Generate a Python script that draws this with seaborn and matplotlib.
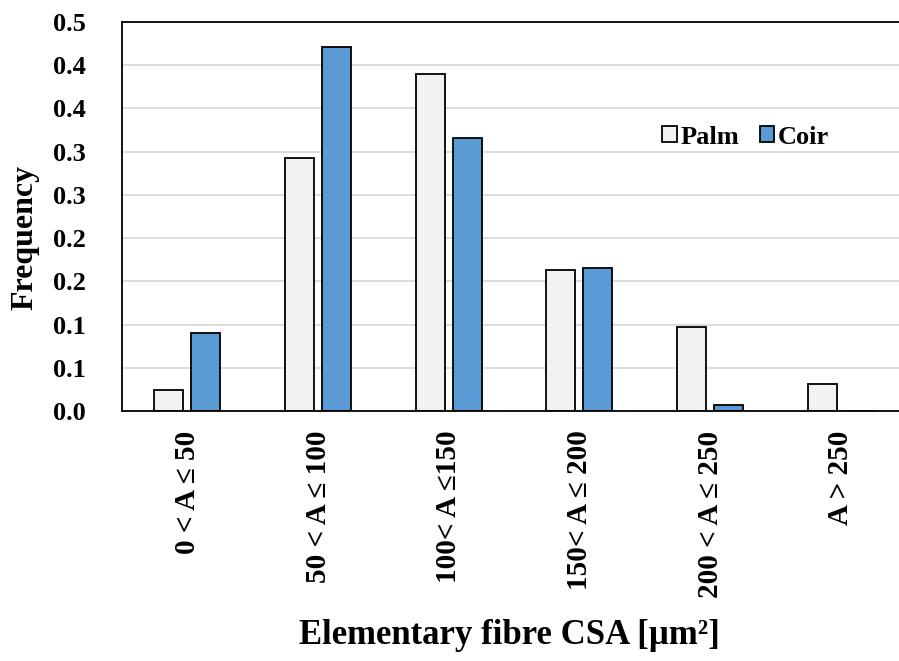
import numpy as np
import pandas as pd
import matplotlib
matplotlib.use("Agg")
import matplotlib.pyplot as plt
import seaborn as sns

# data
categories = ["0 < A ≤ 50", "50 < A ≤ 100", "100< A ≤150",
              "150< A ≤ 200", "200 < A ≤ 250", "A > 250"]
palm = [0.024, 0.293, 0.390, 0.1635, 0.0975, 0.031]
coir = [0.090, 0.421, 0.316, 0.165, 0.007, 0.0]
y_ticks = [0.0, 0.05, 0.10, 0.15, 0.20, 0.25, 0.30, 0.35, 0.40, 0.45]
y_tick_labels = ["0.0", "0.1", "0.1", "0.2", "0.2", "0.3", "0.3", "0.4", "0.4", "0.5"]

df = pd.DataFrame({
    "CSA": categories * 2,
    "Frequency": palm + coir,
    "Fibre": ["Palm"] * len(categories) + ["Coir"] * len(categories),
})

sns.set_style("white")
plt.rcParams['font.family'] = ['Liberation Serif', 'DejaVu Serif']
plt.rcParams['font.weight'] = 'bold'
plt.rcParams['text.color'] = 'black'
plt.rcParams['axes.labelcolor'] = 'black'
plt.rcParams['xtick.color'] = 'black'
plt.rcParams['ytick.color'] = 'black'

fig = plt.figure(figsize=(8.99, 6.61), dpi=100)
ax = fig.add_axes([122 / 899, 250 / 661, 784 / 899, 389 / 661])

sns.barplot(data=df, x="CSA", y="Frequency", hue="Fibre",
            palette={"Palm": "#F2F2F2", "Coir": "#5B9BD5"}, saturation=1,
            width=0.566, gap=0.216, edgecolor="black", linewidth=1.3,
            ax=ax)

ax.set_ylim(0, 0.45)
ax.set_xlim(-0.5, 5.5)
ax.set_yticks(y_ticks)
ax.set_yticklabels(y_tick_labels)
ax.yaxis.grid(True, color="#D9D9D9", linewidth=1.3)
ax.set_axisbelow(True)

for side in ["left", "bottom", "top"]:
    ax.spines[side].set_visible(True)
    ax.spines[side].set_color("black")
    ax.spines[side].set_linewidth(1.3)
ax.spines["right"].set_visible(False)

ax.tick_params(axis="y", length=0, pad=26, labelsize=19)
ax.tick_params(axis="x", length=0, pad=14, labelsize=21)
for lab in ax.get_xticklabels():
    lab.set_rotation(90)
    lab.set_va("top")
    lab.set_ha("center")
    lab.set_fontweight("bold")
for lab in ax.get_yticklabels():
    lab.set_fontweight("bold")

ax.set_xlabel("Elementary fibre CSA [µm²]", fontsize=25, fontweight="bold")
ax.set_ylabel("Frequency", fontsize=23, fontweight="bold")
ax.xaxis.set_label_coords(0.494, -0.576)
ax.xaxis.label.set_va("center")
ax.yaxis.set_label_coords(-0.124, 0.447)
ax.yaxis.label.set_va("center")

ax.legend(loc="center left", bbox_to_anchor=(0.689, 0.704), ncol=2, frameon=False,
          borderpad=0, borderaxespad=0,
          handlelength=0.55, handleheight=0.55, handletextpad=0.15, columnspacing=0.77,
          prop={"size": 19, "weight": "bold"})

fig.savefig("out.png", dpi=100)
